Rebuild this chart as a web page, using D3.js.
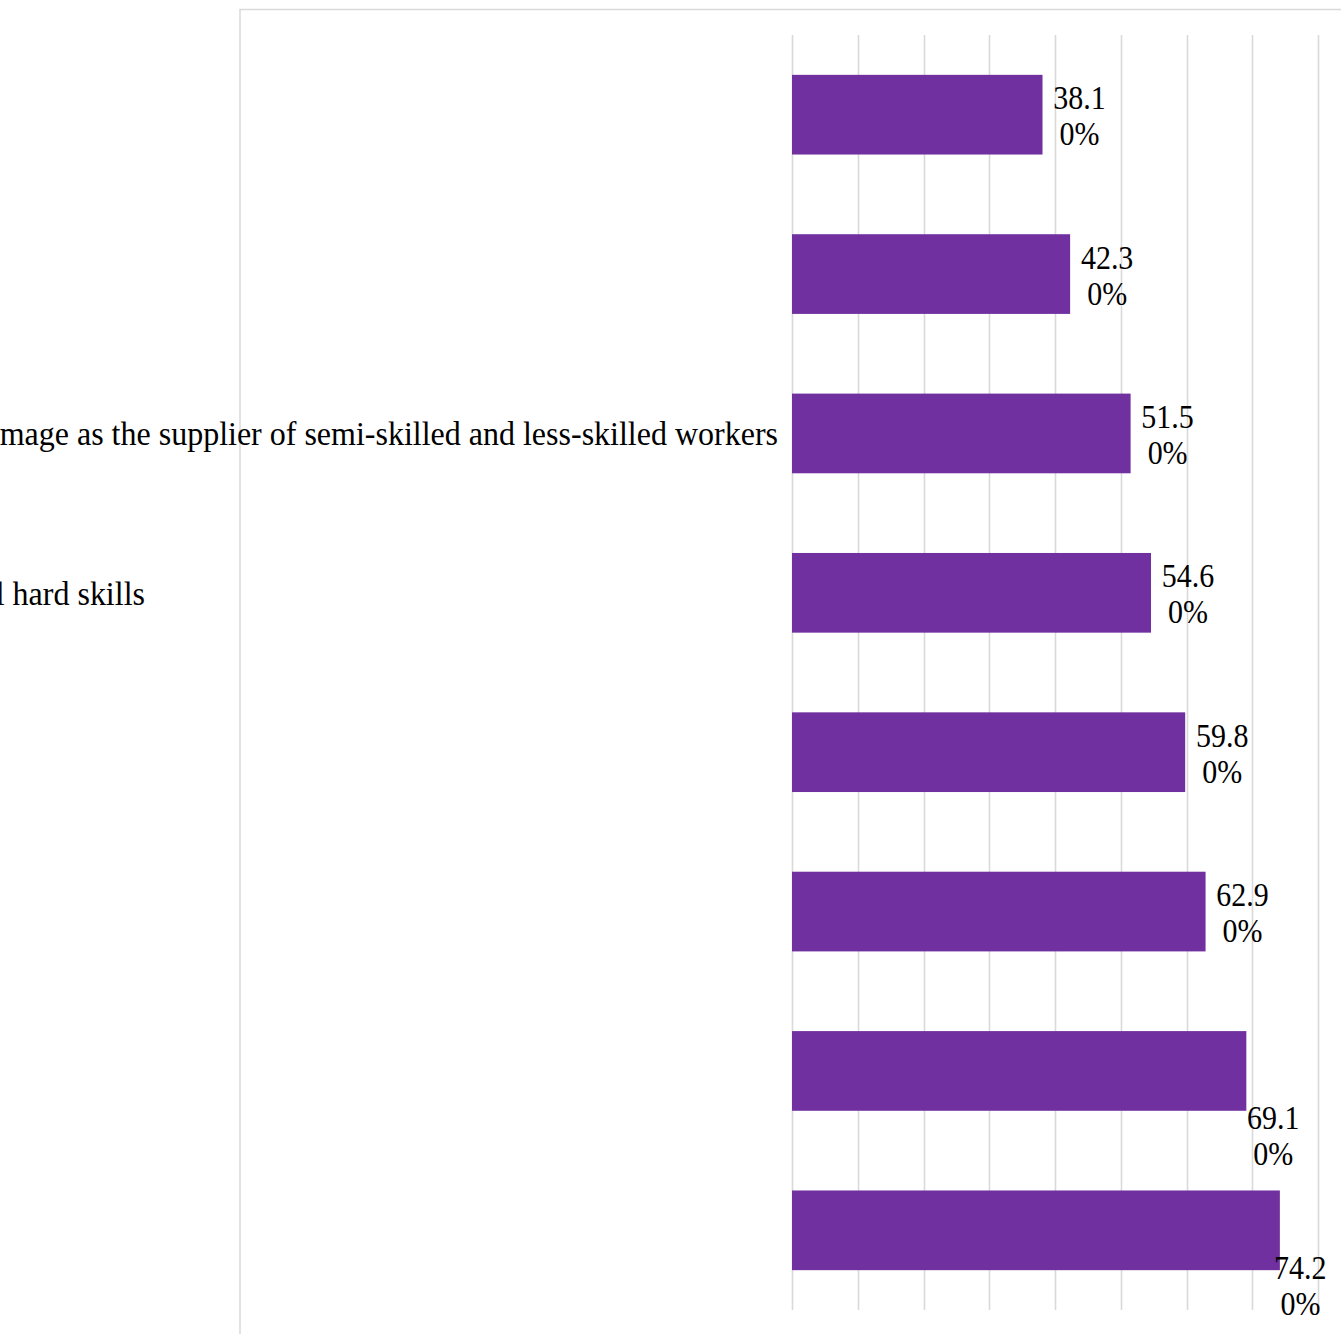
<!DOCTYPE html>
<html>
<head>
<meta charset="utf-8">
<script src="https://cdn.jsdelivr.net/npm/d3@7"></script>
<style>
  html, body { margin: 0; padding: 0; background: #fff; overflow: hidden; }
  svg { display: block; }
  text { font-family: "Liberation Serif", "Times New Roman", serif; fill: #000; }
</style>
</head>
<body>
<svg id="chart" width="1341" height="1334"></svg>
<script>
// ---- data (top to bottom) ----
const categories = [
  "",
  "",
  "mage as the supplier of semi-skilled and less-skilled workers",
  "l hard skills",
  "",
  "",
  "",
  ""
];
const values = [38.1, 42.3, 51.5, 54.6, 59.8, 62.9, 69.1, 74.2];
const xTicks = [0, 10, 20, 30, 40, 50, 60, 70, 80, 90, 100];

// ---- layout ----
const svg = d3.select("#chart");
const purple = "#7030A0";
const grid = "#d9d9d9";
const fs = 30, vStretch = 1.12;
const catFs = 32, catStretch = 1.08;

// chart area border (cropped)
svg.append("rect")
  .attr("x", 240).attr("y", 9.5)
  .attr("width", 1200).attr("height", 1400)
  .attr("fill", "none").attr("stroke", grid).attr("stroke-width", 1.5);

const plotTop = 35, plotBottom = 1310;
const x = d3.scaleLinear().domain([0, 100]).range([792, 792 + 657.5]);
const y = d3.scaleBand().domain(d3.range(values.length))
  .range([plotTop, plotBottom]).paddingInner(0.5).paddingOuter(0.25);

// gridlines
svg.append("g").selectAll("line").data(xTicks).join("line")
  .attr("x1", d => Math.round(x(d)) + 0.5).attr("x2", d => Math.round(x(d)) + 0.5)
  .attr("y1", plotTop).attr("y2", plotBottom)
  .attr("stroke", grid).attr("stroke-width", 1.6);

// bars
svg.append("g").selectAll("rect").data(values).join("rect")
  .attr("x", x(0))
  .attr("y", (d, i) => y(i))
  .attr("width", d => x(d) - x(0))
  .attr("height", y.bandwidth())
  .attr("fill", purple);

// category labels (only fragments visible in the crop)
const catG = svg.append("g");
categories.forEach((c, i) => {
  if (!c) return;
  const cy = y(i) + y.bandwidth() / 2;
  const endX = (i === 3) ? 145 : x(0) - 14;
  catG.append("text")
    .attr("transform", `translate(${endX},${cy + 12}) scale(1,${catStretch})`)
    .attr("text-anchor", "end")
    .attr("font-size", catFs)
    .text(c);
});

// data labels: "38.10%" wrapped as "38.1" / "0%"
const fmt = v => d3.format(".2f")(v) + "%";
const nudges = { 6: [-10, 63.5], 7: [-16.5, 54] }; // labels Excel moved below the bar
const lblG = svg.append("g");
values.forEach((v, i) => {
  const s = fmt(v);
  const lines = [s.slice(0, 4), s.slice(4)];
  const cy = y(i) + y.bandwidth() / 2;
  let cx = x(v) + 37, by = cy - 5.5;
  if (nudges[i]) { cx += nudges[i][0]; by += nudges[i][1]; }
  lines.forEach((ln, k) => {
    lblG.append("text")
      .attr("transform", `translate(${cx},${by + k * 36}) scale(1,${vStretch})`)
      .attr("text-anchor", "middle")
      .attr("font-size", fs)
      .text(ln);
  });
});
</script>
</body>
</html>
